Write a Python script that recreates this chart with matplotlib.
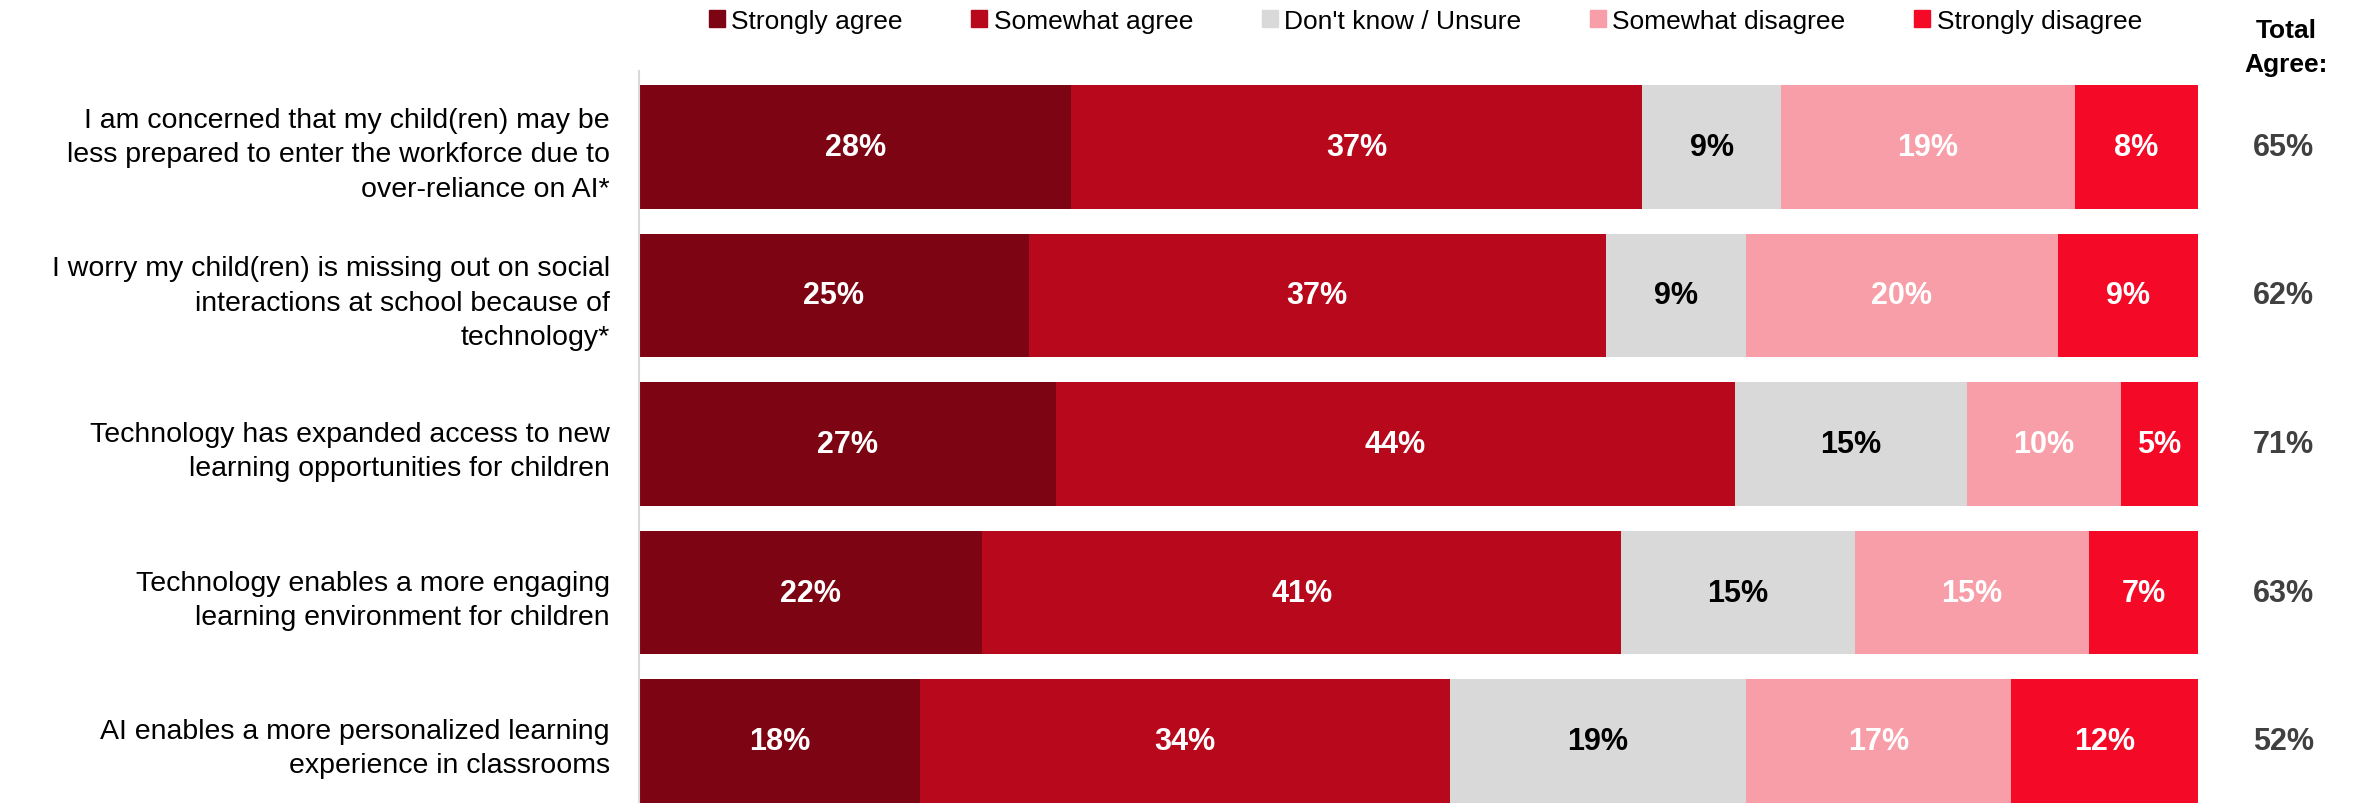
import numpy as np
import matplotlib
matplotlib.use('Agg')
import matplotlib.pyplot as plt
from matplotlib.patches import Patch

plt.rcParams['font.family'] = ['Liberation Sans', 'DejaVu Sans']

statements = [
    'I am concerned that my child(ren) may be\nless prepared to enter the workforce due to\nover-reliance on AI*',
    'I worry my child(ren) is missing out on social\ninteractions at school because of\ntechnology*',
    'Technology has expanded access to new\nlearning opportunities for children',
    'Technology enables a more engaging\nlearning environment for children',
    'AI enables a more personalized learning\nexperience in classrooms',
]
responses = ['Strongly agree', 'Somewhat agree', "Don't know / Unsure",
             'Somewhat disagree', 'Strongly disagree']
strongly_agree = [28, 25, 27, 22, 18]
somewhat_agree = [37, 37, 44, 41, 34]
dont_know = [9, 9, 15, 15, 19]
somewhat_disagree = [19, 20, 10, 15, 17]
strongly_disagree = [8, 9, 5, 7, 12]
total_agree = [65, 62, 71, 63, 52]

colors = ['#7d0413', '#b8091c', '#d9d9d9', '#f89ea8', '#f40a26']
label_colors = ['white', 'white', 'black', 'white', 'white']

series = np.array([strongly_agree, somewhat_agree, dont_know,
                   somewhat_disagree, strongly_disagree], dtype=float)
# rounded shares don't always add to 100, so stretch each row to full width
shares = series / series.sum(axis=0) * 100

fig = plt.figure(figsize=(23.56, 8.04), dpi=100)
ax = fig.add_axes([0.2712, 0.0, 0.6618, 0.9104])

y = np.arange(len(statements))
left = np.zeros(len(statements))
for i, name in enumerate(responses):
    ax.barh(y, shares[i], left=left, height=0.834, color=colors[i],
            label=name, edgecolor='none')
    for j in range(len(statements)):
        ax.text(left[j] + shares[i][j] / 2, y[j], f'{int(series[i][j])}%',
                ha='center', va='center', fontsize=22, fontweight='bold',
                color=label_colors[i])
    left += shares[i]

ax.set_xlim(0, 100)
ax.set_ylim(4.417, -0.511)
ax.set_yticks(y)
ax.set_yticklabels(statements, fontsize=20.5, linespacing=1.42)
ax.tick_params(axis='y', length=0, pad=21)
ax.set_xticks([])
for side in ['top', 'right', 'bottom']:
    ax.spines[side].set_visible(False)
ax.spines['left'].set_color('#d9d9d9')
ax.spines['left'].set_linewidth(1.5)

for j, val in enumerate(total_agree):
    ax.text(1.0545, y[j], f'{val}%', transform=ax.get_yaxis_transform(),
            ha='center', va='center', fontsize=22, fontweight='bold',
            color='#404040')
fig.text(0.9705, 0.94, 'Total\nAgree:', ha='center', va='center',
         fontsize=19, fontweight='bold', linespacing=1.55)

handles = [Patch(color=c) for c in colors]
fig.legend(handles, responses, loc='center', bbox_to_anchor=(0.605, 0.973),
           ncol=5, frameon=False, fontsize=19, handlelength=0.6,
           handleheight=0.6, handletextpad=0.25, columnspacing=2.6)

fig.savefig('out.png', dpi=100)
